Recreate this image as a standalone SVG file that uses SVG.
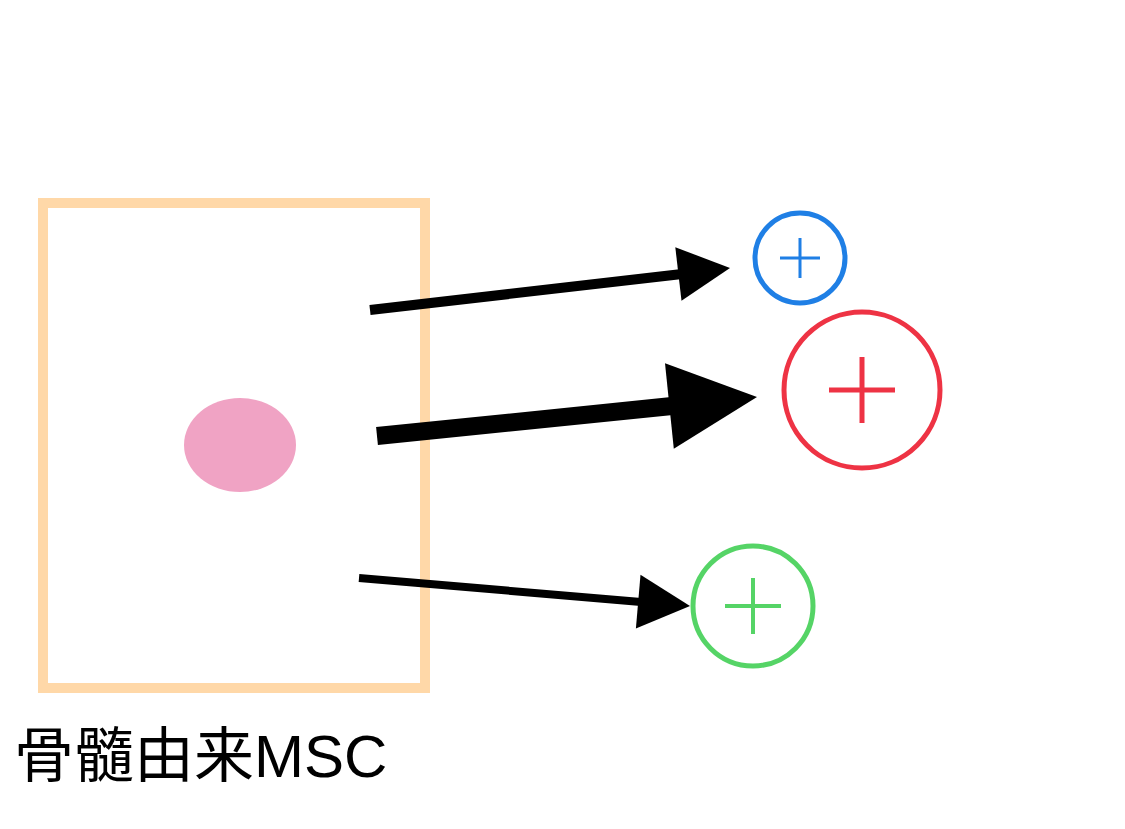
<svg xmlns="http://www.w3.org/2000/svg" width="1125" height="829" viewBox="0 0 1125 829">
<style>
.c{fill:none;stroke-width:5}
.ar{stroke:#000;fill:none}
.hd{fill:#000}
text{font-family:"Liberation Sans","Noto Sans CJK JP",sans-serif;font-size:60px;fill:#000}
</style>
<rect width="1125" height="829" fill="#fff"/>
<g id="msc">
<rect x="43" y="203" width="382" height="485" fill="none" stroke="#FFD8A8" stroke-width="10"/>
<ellipse cx="240" cy="445" rx="56" ry="47" fill="#F0A3C4"/>
<text x="14" y="777">骨髓由来MSC</text>
</g>
<g id="blue"><circle class="c" cx="800" cy="258" r="45" stroke="#1F7FE5"/><path d="M780 258h40M800 238v40" stroke="#1F7FE5" stroke-width="3"/></g>
<g id="red"><circle class="c" cx="862" cy="390" r="78" stroke="#EE3344"/><path d="M829 390h66M862 357v66" stroke="#EE3344" stroke-width="5"/></g>
<g id="green"><circle class="c" cx="753" cy="606" r="60" stroke="#55D466"/><path d="M725 606h56M753 578v56" stroke="#55D466" stroke-width="4"/></g>
<g id="connectors">
<line class="ar" x1="370" y1="310" x2="682" y2="274" stroke-width="10"/>
<polygon class="hd" points="730,268 681.5,300.8 675.3,247.2"/>
<line class="ar" x1="377" y1="436" x2="672" y2="406" stroke-width="18"/>
<polygon class="hd" points="757,397 673.8,448.8 665,363.2"/>
<line class="ar" x1="359" y1="578" x2="641" y2="602" stroke-width="8"/>
<polygon class="hd" points="690,606 635.9,628.5 640.5,574.7"/>
</g>
</svg>
